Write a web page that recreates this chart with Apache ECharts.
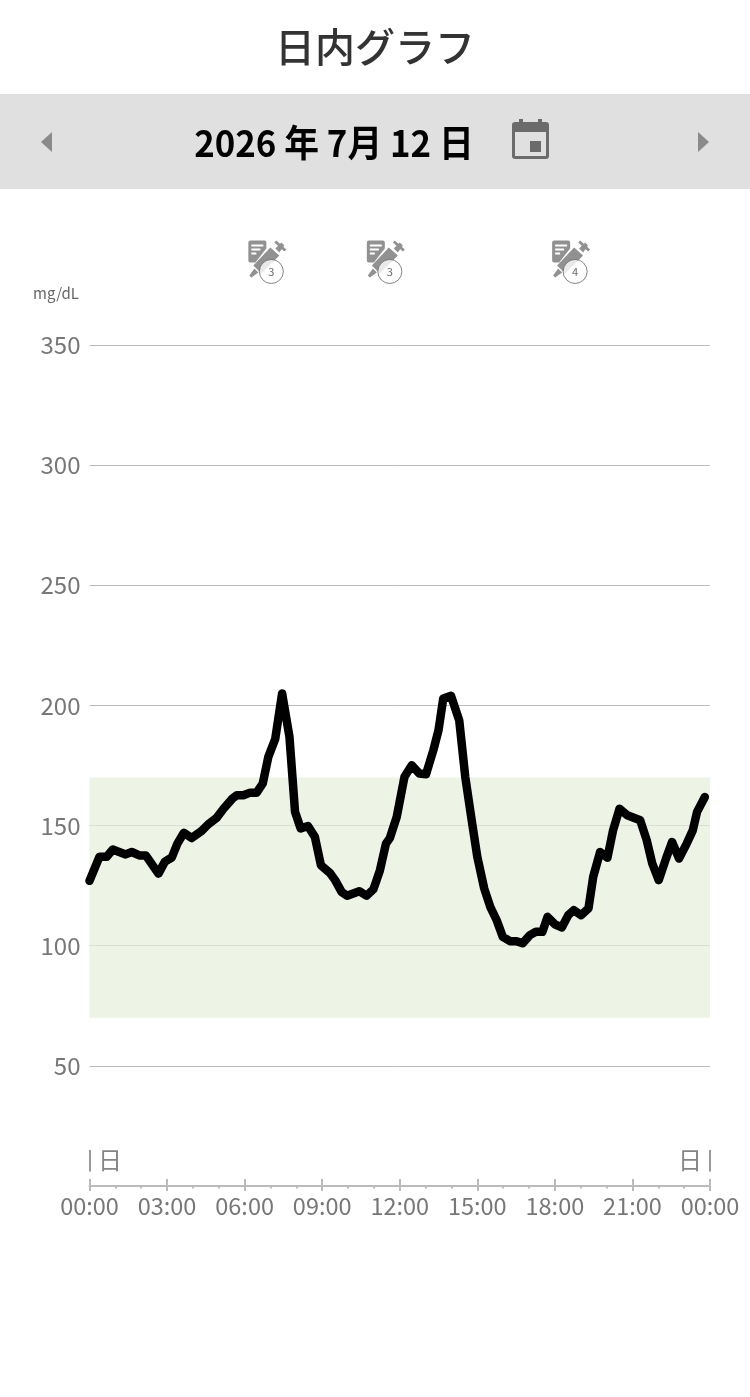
<!DOCTYPE html>
<html><head><meta charset="utf-8">
<style>html,body{margin:0;padding:0;background:#fff}#c{width:750px;height:1397px}</style>
<script src="https://cdn.jsdelivr.net/npm/echarts@6/dist/echarts.min.js"></script>
</head><body><div id="c"></div>
<script>
const titleText = '日内グラフ';
const dateText = '2026 年 7月 12 日';
const unitText = 'mg/dL';
const xTickLabels = ['00:00','03:00','06:00','09:00','12:00','15:00','18:00','21:00','00:00'];
const yTicks = [50,100,150,200,250,300,350];
const targetRange = [70,170];
const minutes = [0,23,40,54,84,98,117,131,160,175,191,204,219,237,260,276,295,311,332,342,357,373,388,402,415,431,447,464,477,490,507,523,537,558,570,585,598,626,643,659,674,688,697,713,731,748,765,781,798,810,821,839,858,872,887,900,916,930,945,959,976,991,1005,1022,1036,1051,1063,1080,1096,1111,1124,1141,1158,1169,1185,1202,1215,1230,1248,1278,1293,1306,1321,1338,1352,1368,1386,1400,1410,1428];
const glucose = [127,137,137,140,138,139,137.5,137.5,130,135,136.7,142.5,147,144.8,147.7,150.6,153.2,157,161.3,162.6,162.6,163.7,163.7,167.5,178.6,186,205,187,155.7,148.8,149.8,145.3,133.5,130.3,127.3,122.4,120.8,122.7,120.8,123.5,131.4,142.5,144.8,153.6,170.3,175.1,171.7,171.4,181.4,189.7,202.9,204,193.8,170.3,152.2,137,123.8,116.2,110.6,103.7,101.9,101.9,101,104.4,105.8,105.8,112,108.9,107.6,112.7,114.8,112.7,115.5,128.7,139,136.6,148,157,154.3,152.2,144,134.2,127.3,136.3,143.2,136.3,142.5,148,155.7,161.9];
const insulinMinutes = [422,697,1127];
const insulinCounts = [3,3,4];
const insulinLevel = 380.6;
const dayMinutes = [0,1440];
const dayLabel = '日';

const FONT = '"Noto Sans CJK JP","Noto Sans",sans-serif';
const iconPath = 'path://M0 2Q0 0 2 0H16Q18 0 18 2V8L7 22H2Q0 22 0 20ZM3 4V6H15V4ZM3 8V10H12V8ZM3 12V14H8V12Z' +
 'M22 7L31 15L13 33L5 25ZM6 28L10 32L3 37L1 35ZM27 8L33 2L36 5L31 12ZM28 0L38 9L36 11L26 2Z';

const chart = echarts.init(document.getElementById('c'), null, {renderer:'canvas'});
chart.setOption({
  animation:false,
  backgroundColor:'#fff',
  grid:{left:89.5,right:40,top:345,bottom:211},
  xAxis:[
    {type:'value',min:0,max:1440,interval:180,splitLine:{show:false},
     axisLine:{show:true,onZero:false,lineStyle:{color:'#bbb',width:2}},
     axisTick:{show:true,length:5,lineStyle:{color:'#bbb',width:2}},
     minorTick:{show:true,splitNumber:3,length:2.5,lineStyle:{color:'#bbb',width:2}},
     axisLabel:{color:'#777',fontSize:23.5,fontFamily:FONT,margin:8,showMinLabel:true,showMaxLabel:true,hideOverlap:false,
       formatter:v=>xTickLabels[v/180]}},
    {type:'value',position:'bottom',min:0,max:1440,interval:180,splitLine:{show:false},
     axisLine:{show:false},
     axisTick:{show:true,inside:true,length:7,lineStyle:{color:'#bbb',width:2}},
     minorTick:{show:false},axisLabel:{show:false}}
  ],
  yAxis:{type:'value',min:0,max:350,interval:50,
    axisLine:{show:false},axisTick:{show:false},
    splitLine:{show:true,lineStyle:{color:'#bbb',width:1}},
    axisLabel:{color:'#777',fontSize:24,fontFamily:FONT,margin:9,
      formatter:v=>yTicks.includes(v)?String(v):''}},
  series:[
    {type:'line',data:minutes.map((m,i)=>[m,glucose[i]]),showSymbol:false,smooth:false,z:5,clip:false,
     lineStyle:{color:'#000',width:8.5,cap:'round',join:'round'},
     markArea:{silent:true,itemStyle:{color:'rgba(229,238,218,0.7)'},
       data:[[{yAxis:targetRange[0]},{yAxis:targetRange[1]}]]},
     markLine:{silent:true,symbol:'none',label:{show:false},lineStyle:{color:'#777',width:1.5,type:'solid'},
       data:dayMinutes.map(m=>[{coord:[m,6]},{coord:[m,15]}])}},
    {type:'scatter',clip:false,silent:true,symbol:iconPath,symbolSize:[38,37],symbolOffset:[-4,-12.5],z:6,
     itemStyle:{color:'#757575'},
     data:insulinMinutes.map(m=>[m,insulinLevel])},
    {type:'scatter',clip:false,silent:true,symbol:'circle',symbolSize:24,z:7,
     itemStyle:{color:'#fff',borderColor:'#666',borderWidth:1},
     label:{show:true,position:'inside',color:'#444',fontSize:11,fontFamily:FONT,formatter:p=>String(insulinCounts[p.dataIndex])},
     data:insulinMinutes.map(m=>[m,insulinLevel])},
    {type:'scatter',clip:false,silent:true,symbolSize:1,z:6,itemStyle:{color:'transparent'},
     label:{show:true,position:'inside',color:'#666',fontSize:24,fontFamily:FONT,formatter:dayLabel},
     data:[
       {value:[dayMinutes[0],10.8],label:{offset:[20.5,0]}},
       {value:[dayMinutes[1],10.8],label:{offset:[-20,0]}}
     ]}
  ],
  graphic:[
    {type:'text',x:375,y:47,style:{text:titleText,font:'500 40px '+FONT,fill:'#333',textAlign:'center',textVerticalAlign:'middle'},z:10},
    {type:'rect',shape:{x:0,y:94,width:750,height:95},style:{fill:'#e0e0e0'},z:1},
    {type:'text',x:334,y:143,scaleX:0.94,style:{text:dateText,font:'700 37px '+FONT,fill:'#000',textAlign:'center',textVerticalAlign:'middle'},z:10},
    {type:'rect',shape:{x:519,y:119,width:4,height:6},style:{fill:'#6b6b6b'},z:10},
    {type:'rect',shape:{x:538,y:119,width:4,height:6},style:{fill:'#6b6b6b'},z:10},
    {type:'rect',shape:{x:512,y:122,width:37,height:37,r:3},style:{fill:'#6b6b6b'},z:10},
    {type:'rect',shape:{x:515,y:132,width:31,height:24},style:{fill:'#e0e0e0'},z:11},
    {type:'rect',shape:{x:530,y:141,width:11,height:11},style:{fill:'#6b6b6b'},z:12},
    {type:'polygon',shape:{points:[[41,142],[52,132],[52,152]]},style:{fill:'#8a8a8a'},z:10},
    {type:'polygon',shape:{points:[[709,142],[698,132],[698,152]]},style:{fill:'#8a8a8a'},z:10},
    {type:'text',x:33,y:286,style:{text:unitText,font:'400 15px '+FONT,fill:'#666'},z:10}
  ]
});
</script></body></html>
